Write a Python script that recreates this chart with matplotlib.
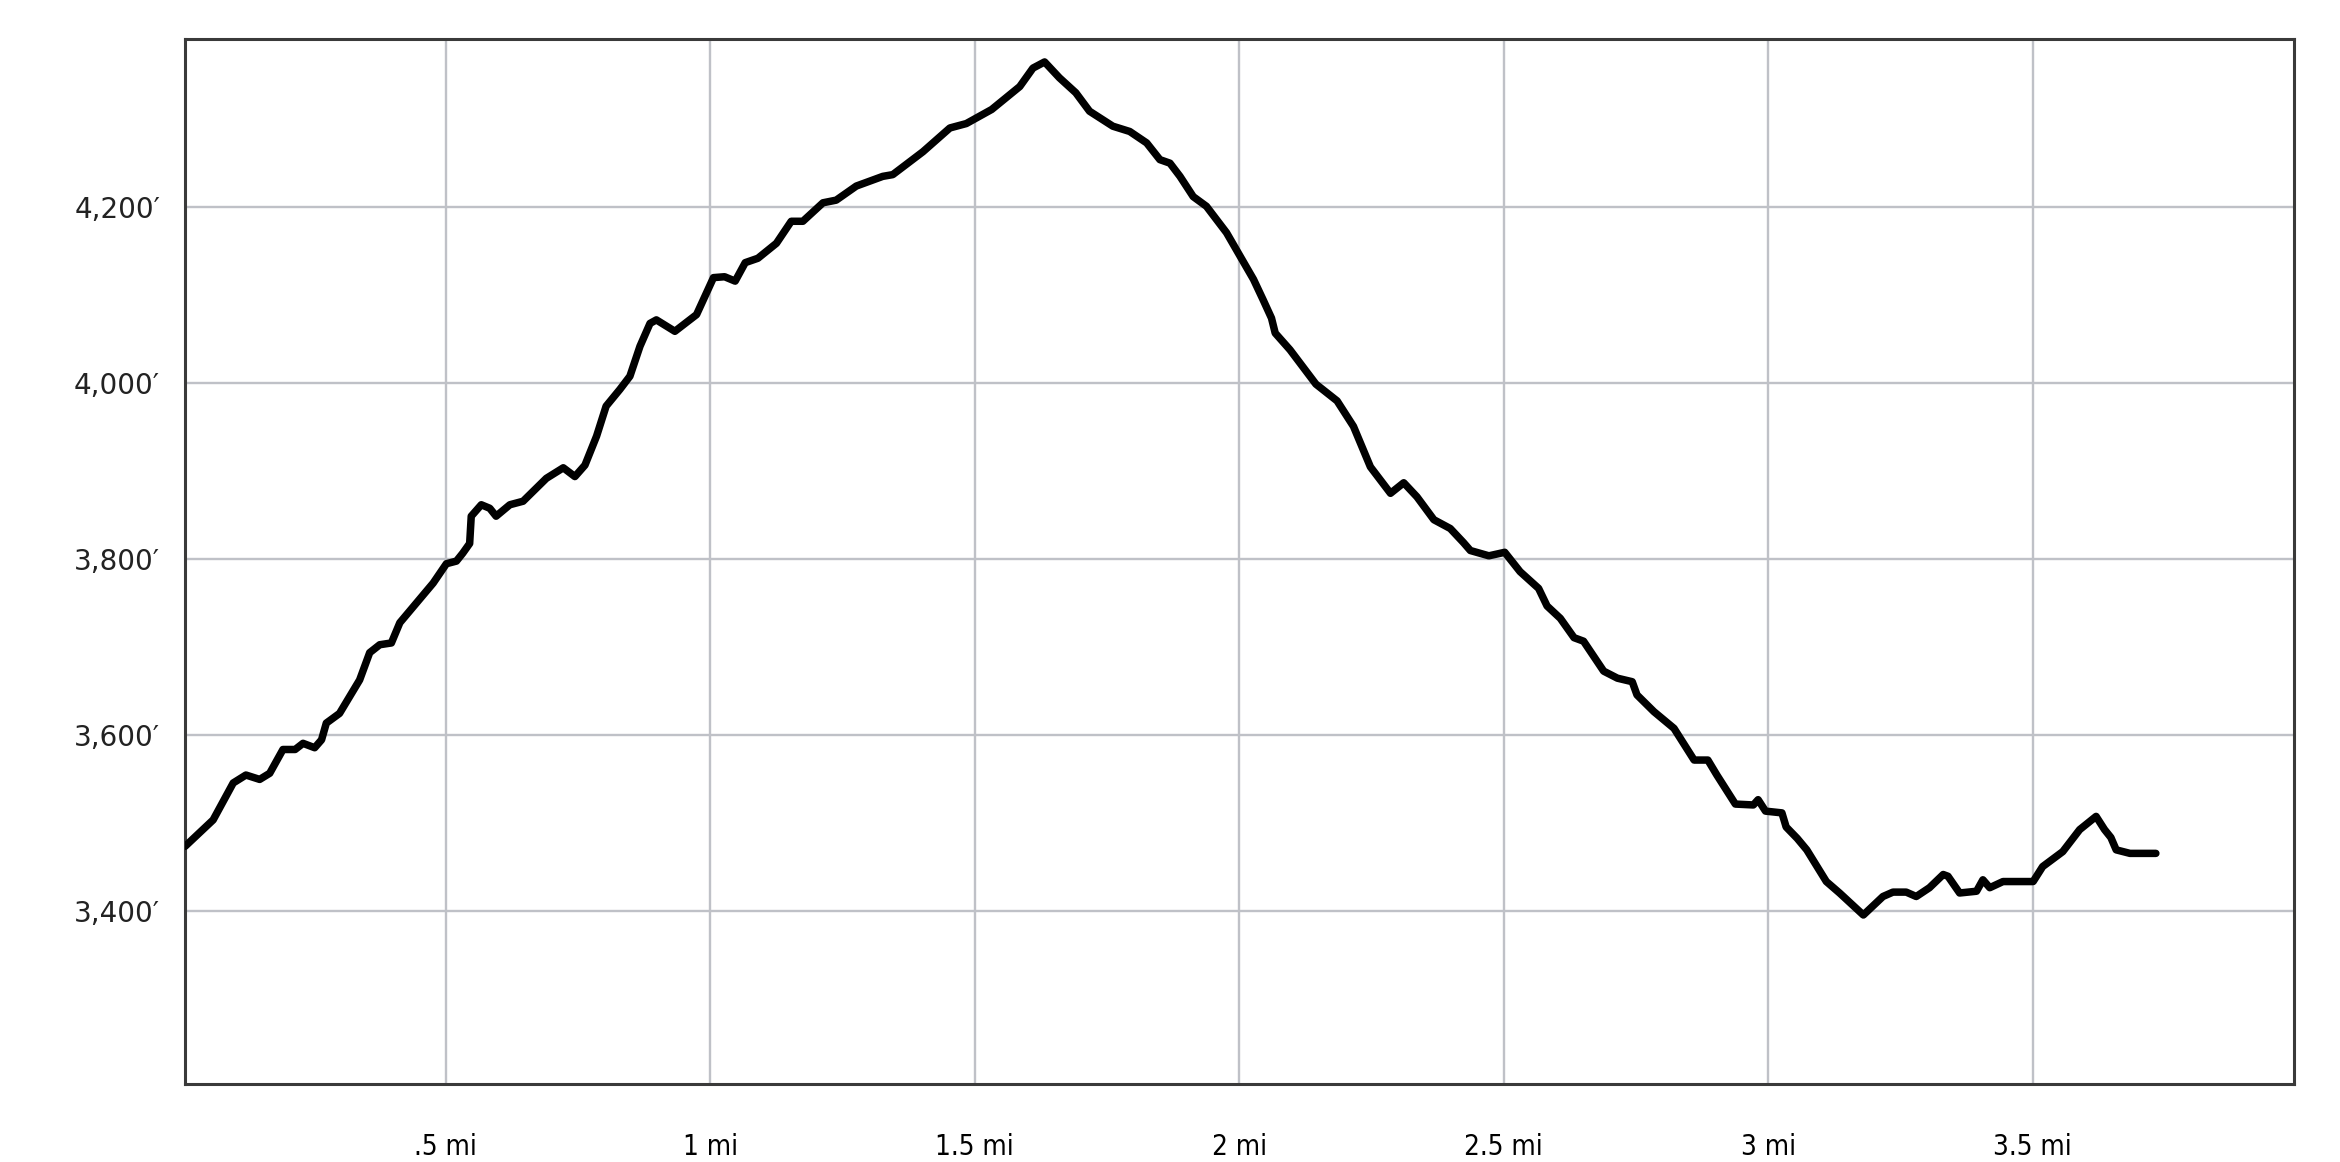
import matplotlib.pyplot as plt

# distance along trail (miles) and elevation (feet)
miles = [0.007, 0.06, 0.098, 0.122, 0.148, 0.167, 0.192, 0.215, 0.230, 0.252,
         0.265, 0.274, 0.299, 0.337, 0.356, 0.375, 0.397, 0.413, 0.476, 0.501,
         0.520, 0.532, 0.545, 0.548, 0.567, 0.583, 0.595, 0.621, 0.646, 0.690,
         0.722, 0.744, 0.763, 0.785, 0.803, 0.829, 0.848, 0.867, 0.886, 0.898,
         0.933, 0.974, 1.006, 1.027, 1.047, 1.066, 1.090, 1.125, 1.153, 1.175,
         1.213, 1.238, 1.276, 1.326, 1.345, 1.402, 1.453, 1.484, 1.532, 1.585,
         1.610, 1.632, 1.660, 1.691, 1.717, 1.761, 1.793, 1.825, 1.850, 1.869,
         1.888, 1.913, 1.938, 1.976, 2.004, 2.027, 2.045, 2.061, 2.068, 2.096,
         2.145, 2.185, 2.216, 2.248, 2.286, 2.311, 2.336, 2.368, 2.399, 2.424,
         2.437, 2.472, 2.502, 2.531, 2.566, 2.582, 2.607, 2.633, 2.651, 2.689,
         2.715, 2.743, 2.752, 2.784, 2.822, 2.860, 2.886, 2.903, 2.938, 2.972,
         2.981, 2.995, 3.026, 3.034, 3.055, 3.073, 3.110, 3.135, 3.180, 3.217,
         3.236, 3.261, 3.280, 3.305, 3.331, 3.340, 3.362, 3.394, 3.406, 3.419,
         3.444, 3.501, 3.519, 3.557, 3.589, 3.620, 3.636, 3.648, 3.658, 3.684,
         3.733]
elev = [3474, 3504, 3546, 3555, 3550, 3557, 3584, 3584, 3591, 3586,
        3595, 3614, 3625, 3663, 3694, 3703, 3705, 3728, 3773, 3795,
        3798, 3807, 3818, 3849, 3862, 3858, 3849, 3862, 3866, 3892,
        3904, 3894, 3907, 3940, 3974, 3993, 4008, 4042, 4068, 4072,
        4059, 4078, 4120, 4121, 4116, 4137, 4142, 4159, 4184, 4184,
        4205, 4208, 4224, 4235, 4237, 4263, 4290, 4295, 4311, 4337,
        4358, 4365, 4347, 4330, 4309, 4292, 4286, 4273, 4254, 4250,
        4235, 4212, 4201, 4171, 4142, 4118, 4095, 4074, 4057, 4038,
        3999, 3980, 3951, 3905, 3875, 3887, 3871, 3845, 3835, 3819,
        3810, 3804, 3808, 3786, 3767, 3747, 3733, 3711, 3707, 3673,
        3665, 3661, 3646, 3627, 3608, 3572, 3572, 3555, 3522, 3521,
        3527, 3514, 3512, 3496, 3483, 3470, 3434, 3421, 3396, 3417,
        3422, 3422, 3417, 3427, 3442, 3440, 3421, 3423, 3436, 3427,
        3434, 3434, 3451, 3468, 3493, 3508, 3493, 3484, 3470, 3466,
        3466]

xticks = [0.5, 1, 1.5, 2, 2.5, 3, 3.5]
xlabels = ['.5 mi', '1 mi', '1.5 mi', '2 mi', '2.5 mi', '3 mi', '3.5 mi']
yticks = [3400, 3600, 3800, 4000, 4200]
ylabels = ['3,400\u2032', '3,600\u2032', '3,800\u2032', '4,000\u2032', '4,200\u2032']

fig = plt.figure(figsize=(23.4, 11.62), dpi=100)
ax = fig.add_axes([0.0791, 0.0671, 0.9012, 0.8993])

ax.plot(miles, elev, color='black', linewidth=5.4,
        solid_joinstyle='round', solid_capstyle='round', zorder=3)

ax.set_xlim(0.007, 3.994)
ax.set_ylim(3204, 4391)

ax.set_xticks(xticks)
ax.set_xticklabels(xlabels, fontsize=20, fontstretch='condensed',
                   family=['Liberation Sans Narrow', 'DejaVu Sans'])
ax.set_yticks(yticks)
ax.set_yticklabels(ylabels, fontsize=20, color='#222222')
ax.tick_params(axis='both', length=0)
ax.tick_params(axis='x', pad=35)
ax.tick_params(axis='y', pad=18)

ax.grid(True, color='#bfc1c7', linewidth=1.7)
ax.set_axisbelow(True)
for s in ax.spines.values():
    s.set_color('#3a3a3a')
    s.set_linewidth(2.2)

fig.savefig('out.png', dpi=100)
